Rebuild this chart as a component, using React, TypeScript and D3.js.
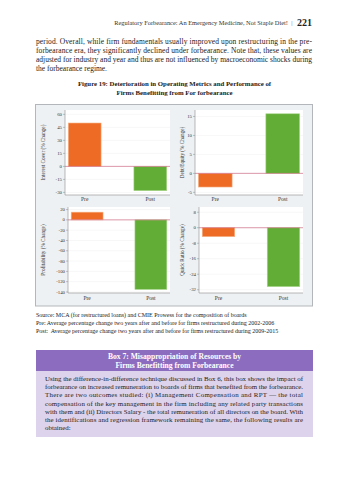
import React from "react";
import * as d3 from "d3";

const categories = ["Pre", "Post"];
const interestCover = [50, -28];
const debtEquity = [-3.6, 15.7];
const profitability = [15, -135];
const quickRatio = [-4.6, -30.4];

const ticksInterest = [60, 45, 30, 15, 0, -15, -30];
const ticksDebt = [15, 10, 5, 0, -5];
const ticksProfit = [20, 0, -20, -40, -60, -80, -100, -120, -140];
const ticksQuick = [8, 0, -8, -16, -24, -32];

const headerText = "Regulatory Forbearance: An Emergency Medicine, Not Staple Diet!";
const pageNo = "221";
const paraLines = [
  "period. Overall, while firm fundamentals usually improved upon restructuring in the pre-",
  "forbearance era, they significantly declined under forbearance. Note that, these values are",
  "adjusted for industry and year and thus are not influenced by macroeconomic shocks during",
  "the forbearance regime.",
];
const figTitle = [
  "Figure 19: Deterioration in Operating Metrics and Performance of",
  "Firms Benefitting from For forbearance",
];
const sourceLines = [
  "Source: MCA (for restructured loans) and CMIE Prowess for the composition of boards",
  "Pre: Average percentage change two years after and before for firms restructured during 2002-2006",
  "Post:  Average percentage change two years after and before for firms restructured during 2009-2015",
];
const boxTitle = ["Box 7: Misappropriation of Resources by", "Firms Benefitting from Forbearance"];
const boxLines = [
  "Using the difference-in-difference technique discussed in Box 6, this box shows the impact of",
  "forbearance on increased remuneration to boards of firms that benefited from the forbearance.",
  "There are two outcomes studied: (i) Management Compensation and RPT \u2014 the total",
  "compensation of the key management in the firm including any related party transactions",
  "with them and (ii) Directors Salary - the total remuneration of all directors on the board. With",
  "the identifications and regression framework remaining the same, the following results are",
  "obtained:",
];

const SERIF = "'Liberation Serif', 'Times New Roman', serif";
const ORANGE = "#ee6b25";
const GREEN = "#61ad35";

type PanelProps = {
  x0: number; x1: number; y0: number; y1: number;
  domain: [number, number]; ticks: number[]; values: number[];
  title: string; titleX: number; labelY: number;
};

function Panel({ x0, x1, y0, y1, domain, ticks, values, title, titleX, labelY }: PanelProps) {
  const x = d3.scaleBand<string>().domain(categories).range([x0, x1]).paddingInner(0.5).paddingOuter(0.05);
  const y = d3.scaleLinear().domain(domain).range([y1, y0]);
  const colors = [ORANGE, GREEN];
  return (
    <g>
      <rect x={x0} y={y0} width={x1 - x0} height={y1 - y0} fill="#ffffff" />
      {ticks.map((t) => (
        <line key={"g" + t} x1={x0} x2={x1} y1={y(t)} y2={y(t)} stroke="#eeeeee" strokeWidth={0.5} />
      ))}
      {values.map((v, i) => (
        <rect key={i} x={x(categories[i])!} width={x.bandwidth()}
          y={Math.min(y(v), y(0))} height={Math.abs(y(v) - y(0))}
          fill={colors[i]} stroke={i === 0 ? "#f5b48a" : "#a9d68c"} strokeWidth={0.6} />
      ))}
      <line x1={x0} x2={x1} y1={y(0)} y2={y(0)} stroke="#d2708a" strokeWidth={0.7} />
      <line x1={x0} x2={x0} y1={y0} y2={y1} stroke="#8a8a8a" strokeWidth={0.6} />
      <line x1={x0} x2={x1} y1={y1} y2={y1} stroke="#8a8a8a" strokeWidth={0.6} />
      {ticks.map((t) => (
        <g key={"t" + t}>
          <line x1={x0 - 2} x2={x0} y1={y(t)} y2={y(t)} stroke="#8a8a8a" strokeWidth={0.5} />
          <text x={x0 - 3} y={y(t)} dy="0.33em" textAnchor="end" fontSize={4.8} fontFamily={SERIF} fill="#333">
            {t}
          </text>
        </g>
      ))}
      {categories.map((c) => (
        <text key={c} x={x(c)! + x.bandwidth() / 2} y={labelY} textAnchor="middle" fontSize={5.5} fontFamily={SERIF} fill="#333">
          {c}
        </text>
      ))}
      <text transform={`translate(${titleX},${(y0 + y1) / 2}) rotate(-90)`} textAnchor="middle"
        fontSize={5.2} fontFamily={SERIF} fill="#333">
        {title}
      </text>
    </g>
  );
}

export default function App() {
  const W = 349, H = 480;
  const left = 36, right = 312;
  return (
    <svg width={W} height={H} style={{ position: "absolute", left: 0, top: 0, background: "#fff" }}>
      {/* header */}
      <text x={288} y={25} textAnchor="end" fontSize={6.4} fontFamily={SERIF} fill="#333">{headerText}</text>
      <text x={292} y={25} textAnchor="middle" fontSize={6.4} fontFamily={SERIF} fill="#555">|</text>
      <text x={312} y={25.5} textAnchor="end" fontSize={10} fontWeight="bold" fontFamily={SERIF} fill="#222">{pageNo}</text>
      {/* paragraph */}
      {paraLines.map((l, i) => (
        <text key={i} x={left} y={44 + i * 9} fontSize={7.5} fontFamily={SERIF} fill="#222"
          {...(i < paraLines.length - 1 ? { textLength: right - left, lengthAdjust: "spacing" } : {})}>
          {l}
        </text>
      ))}
      {figTitle.map((l, i) => (
        <text key={i} x={174.5} y={86 + i * 8.5} textAnchor="middle" fontSize={6.8} fontWeight="bold" fontFamily={SERIF} fill="#222">
          {l}
        </text>
      ))}
      {/* chart frame */}
      <rect x={35.5} y={104.5} width={277} height={201.5} fill="#eef1f4" stroke="#b3b7bb" strokeWidth={1} />
      <Panel x0={65} x1={170} y0={110} y1={195} domain={[-33, 65]} ticks={ticksInterest} values={interestCover}
        title="Interest Cover (% Change)" titleX={45} labelY={201} />
      <Panel x0={195} x1={303} y0={110} y1={195} domain={[-5.7, 16.7]} ticks={ticksDebt} values={debtEquity}
        title="Debt/Equity (% Change)" titleX={184} labelY={201} />
      <Panel x0={68} x1={170} y0={207} y1={293} domain={[-142, 25]} ticks={ticksProfit} values={profitability}
        title="Profitability (% Change)" titleX={45} labelY={299.5} />
      <Panel x0={199} x1={303} y0={207} y1={293} domain={[-33.7, 10.7]} ticks={ticksQuick} values={quickRatio}
        title="Quick Ratio (% Change)" titleX={184} labelY={299.5} />
      {/* source */}
      {sourceLines.map((l, i) => (
        <text key={i} x={left} y={317 + i * 8} fontSize={6} fontFamily={SERIF} fill="#222" style={{ whiteSpace: "pre" }}>
          {l}
        </text>
      ))}
      {/* box 7 */}
      <rect x={36} y={350} width={277} height={21} fill="#8c6cbf" />
      <rect x={36} y={371} width={277} height={66} fill="#ddd3ec" />
      {boxTitle.map((l, i) => (
        <text key={i} x={174.5} y={358.5 + i * 9} textAnchor="middle" fontSize={7.6} fontWeight="bold" fontFamily={SERIF} fill="#ffffff">
          {l}
        </text>
      ))}
      {boxLines.map((l, i) => (
        <text key={i} x={45} y={381 + i * 8.2} fontSize={6.9} fontFamily={SERIF} fill="#222"
          {...(i < boxLines.length - 1 ? { textLength: 303 - 45, lengthAdjust: "spacing" } : {})}>
          {l}
        </text>
      ))}
    </svg>
  );
}
